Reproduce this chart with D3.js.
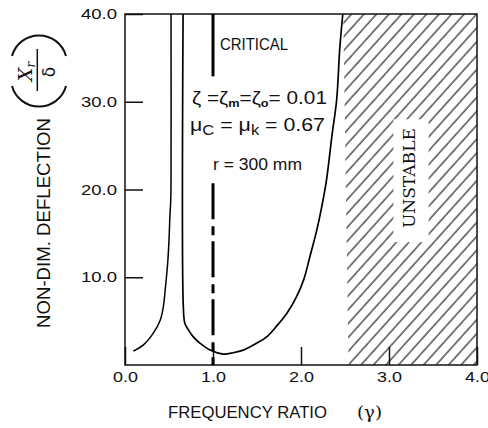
<!DOCTYPE html>
<meta charset="utf-8">
<style>
  body { margin: 0; background: #fff; }
  text { font-family: "Liberation Sans", Arial, sans-serif; fill: #111; }
</style>
<script src="https://d3js.org/d3.v7.min.js"></script>
<div id="chart"></div>
<script>
// response curve, left branch (below first resonance)
var leftX = [0.095, 0.21, 0.32, 0.40, 0.435, 0.46, 0.485, 0.50, 0.51, 0.52, 0.523, 0.523];
var leftY = [1.6, 2.3, 3.6, 5.1, 6.6, 8.9, 11.6, 14.2, 16.9, 18.8, 21.1, 40];
// right branch (after second resonance)
var rightX = [0.66, 0.663, 0.68, 0.72, 0.776, 0.85, 0.966, 1.117, 1.23, 1.344, 1.50, 1.61, 1.72, 1.84, 1.95, 2.03, 2.10, 2.18, 2.235, 2.29, 2.35, 2.405, 2.44, 2.475];
var rightY = [40, 6.6, 4.75, 4.0, 3.2, 2.5, 1.7, 1.25, 1.4, 1.7, 2.5, 3.2, 4.4, 5.9, 7.8, 9.7, 12.3, 15.4, 18.0, 21.1, 26.0, 30.2, 36.0, 40];
var criticalX = 1.0;
var unstableLeftTop = 2.48, unstableLeftBottom = 2.54;
var xTicks = [0, 1, 2, 3, 4];
var yTicks = [10, 20, 30, 40];

var W = 488, H = 428;
var margin = { top: 14, right: 11, bottom: 63, left: 125 },
    width = W - margin.left - margin.right,
    height = H - margin.top - margin.bottom;

var svg = d3.select("#chart").append("svg")
    .attr("width", W).attr("height", H);

var defs = svg.append("defs");
var pat = defs.append("pattern")
    .attr("id", "hatch")
    .attr("patternUnits", "userSpaceOnUse")
    .attr("width", 9.3).attr("height", 10)
    .attr("patternTransform", "rotate(42)");
pat.append("line")
    .attr("x1", 1).attr("y1", 0).attr("x2", 1).attr("y2", 10)
    .attr("stroke", "#111").attr("stroke-width", 1.1);

var g = svg.append("g")
    .attr("transform", "translate(" + margin.left + "," + margin.top + ")");

var x = d3.scaleLinear().domain([0, 4]).range([0, width]);
var y = d3.scaleLinear().domain([0, 40]).range([height, 0]);

// unstable hatched region
g.append("path")
    .attr("d", d3.line()([[x(unstableLeftTop), y(40)], [x(4), y(40)], [x(4), y(0)], [x(unstableLeftBottom), y(0)]]) + "Z")
    .attr("fill", "url(#hatch)");
g.append("rect")
    .attr("x", x(3.05)).attr("y", y(28))
    .attr("width", x(3.45) - x(3.05)).attr("height", y(14) - y(28))
    .attr("fill", "#fff");
g.append("text")
    .attr("transform", "translate(" + x(3.295) + "," + y(21.3) + ") rotate(-90)")
    .attr("text-anchor", "middle")
    .attr("textLength", 100).attr("lengthAdjust", "spacingAndGlyphs")
    .style("font-family", "'DejaVu Serif', serif")
    .style("font-size", "17px")
    .text("UNSTABLE");

// axes
var yAxis = g.append("g")
    .call(d3.axisLeft(y).tickValues(yTicks).tickFormat(d3.format(".1f"))
        .tickSizeInner(-18).tickSizeOuter(0).tickPadding(8));
var xAxis = g.append("g")
    .attr("transform", "translate(0," + height + ")")
    .call(d3.axisBottom(x).tickValues(xTicks).tickFormat(d3.format(".1f"))
        .tickSizeInner(-18).tickSizeOuter(0).tickPadding(7));
[yAxis, xAxis].forEach(function (a) {
    a.select(".domain").remove();
    a.selectAll(".tick line").attr("stroke", "#111").attr("stroke-width", 1.5);
    a.selectAll(".tick text")
        .style("font-family", "'Liberation Sans', Arial, sans-serif")
        .style("font-size", "14.5px").attr("fill", "#111");
});
yAxis.selectAll(".tick text").attr("textLength", 36).attr("lengthAdjust", "spacingAndGlyphs");
xAxis.selectAll(".tick text").attr("textLength", 25).attr("lengthAdjust", "spacingAndGlyphs");

// frame
g.append("rect")
    .attr("width", width).attr("height", height)
    .attr("fill", "none").attr("stroke", "#111").attr("stroke-width", 1.5);

// critical speed line
g.append("line")
    .attr("x1", x(criticalX)).attr("x2", x(criticalX))
    .attr("y1", y(40)).attr("y2", y(32.9))
    .attr("stroke", "#000").attr("stroke-width", 3);
g.append("line")
    .attr("x1", x(criticalX)).attr("x2", x(criticalX))
    .attr("y1", y(20.7)).attr("y2", y(0))
    .attr("stroke", "#000").attr("stroke-width", 3)
    .attr("stroke-dasharray", "36,7,9,6");

// response curves
var line = d3.line()
    .x(function (d) { return x(d[0]); })
    .y(function (d) { return y(d[1]); })
    .curve(d3.curveCatmullRom.alpha(0.5));
g.append("path")
    .datum(leftX.map(function (v, i) { return [v, leftY[i]]; }))
    .attr("d", line).attr("fill", "none")
    .attr("stroke", "#000").attr("stroke-width", 1.5);
g.append("path")
    .datum(rightX.map(function (v, i) { return [v, rightY[i]]; }))
    .attr("d", line).attr("fill", "none")
    .attr("stroke", "#000").attr("stroke-width", 1.7);

// annotations
svg.append("text")
    .attr("x", 220).attr("y", 50)
    .attr("textLength", 68).attr("lengthAdjust", "spacingAndGlyphs")
    .style("font-size", "16px")
    .text("CRITICAL");

var z = svg.append("text").attr("x", 192).attr("y", 104)
    .attr("textLength", 135).attr("lengthAdjust", "spacingAndGlyphs")
    .style("font-size", "18px");
z.append("tspan").text("ζ =ζ");
z.append("tspan").attr("dy", 3).style("font-size", "11px").style("font-weight", "bold").text("m");
z.append("tspan").attr("dy", -3).text("=ζ");
z.append("tspan").attr("dy", 3).style("font-size", "11px").style("font-weight", "bold").text("o");
z.append("tspan").attr("dy", -3).text("= 0.01");

var mu = svg.append("text").attr("x", 190).attr("y", 131)
    .attr("textLength", 135).attr("lengthAdjust", "spacingAndGlyphs")
    .style("font-size", "18px");
mu.append("tspan").text("μ");
mu.append("tspan").attr("dy", 4).style("font-size", "14px").text("C");
mu.append("tspan").attr("dy", -4).text(" = μ");
mu.append("tspan").attr("dy", 4).style("font-size", "14px").text("k");
mu.append("tspan").attr("dy", -4).text(" = 0.67");

svg.append("text")
    .attr("x", 213).attr("y", 170)
    .attr("textLength", 89).attr("lengthAdjust", "spacingAndGlyphs")
    .style("font-size", "16px")
    .text("r = 300 mm");

// axis titles
svg.append("text")
    .attr("x", 168).attr("y", 418)
    .attr("textLength", 159).attr("lengthAdjust", "spacingAndGlyphs")
    .style("font-size", "16px")
    .text("FREQUENCY RATIO");
svg.append("text")
    .attr("x", 357).attr("y", 418)
    .attr("textLength", 25).attr("lengthAdjust", "spacingAndGlyphs")
    .style("font-size", "16px").style("font-family", "'DejaVu Serif', serif")
    .text("(γ)");

svg.append("text")
    .attr("transform", "translate(50,328) rotate(-90)")
    .attr("textLength", 210).attr("lengthAdjust", "spacingAndGlyphs")
    .style("font-size", "18px")
    .text("NON-DIM. DEFLECTION");

// (Xr / δ) symbol
var sym = svg.append("g");
sym.append("path").attr("d", "M12,56 A28,28 0 0 1 66,56")
    .attr("fill", "none").attr("stroke", "#111").attr("stroke-width", 2);
sym.append("path").attr("d", "M12,86 A28,28 0 0 0 66,86")
    .attr("fill", "none").attr("stroke", "#111").attr("stroke-width", 2);
var frac = sym.append("g").attr("transform", "translate(38,70) rotate(-90)");
frac.append("line").attr("x1", -21).attr("x2", 21).attr("y1", -0.7).attr("y2", -0.7)
    .attr("stroke", "#111").attr("stroke-width", 1.5);
var num = frac.append("text").attr("x", -1.5).attr("y", -6)
    .attr("text-anchor", "middle")
    .style("font-family", "'DejaVu Serif', serif").style("font-style", "italic")
    .style("font-size", "19px");
num.append("tspan").text("X");
num.append("tspan").attr("dy", 3).style("font-size", "12px").text("r");
frac.append("text").attr("x", -2).attr("y", 17)
    .attr("text-anchor", "middle")
    .style("font-family", "'DejaVu Sans', sans-serif")
    .style("font-size", "17px")
    .text("δ");
</script>
